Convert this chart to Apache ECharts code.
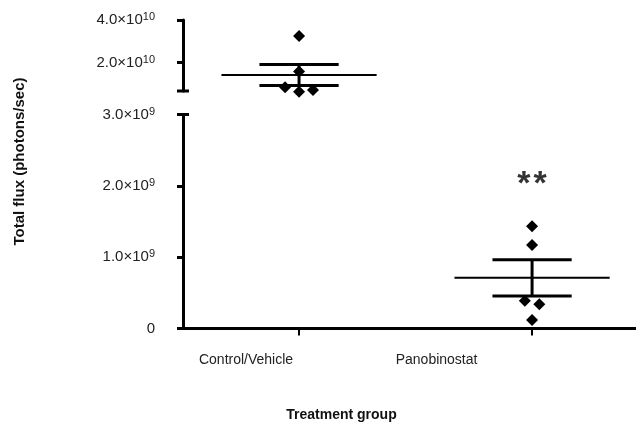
<!DOCTYPE html>
<html>
<head>
<meta charset="utf-8">
<script src="https://cdn.jsdelivr.net/npm/echarts@6/dist/echarts.min.js"></script>
<style>
  html, body { margin: 0; padding: 0; background: #fff; }
  #chart { width: 636px; height: 428px; }
</style>
</head>
<body>
<div id="chart"></div>
<script>
// Treatment groups and individual total-flux readings (photons/sec)
const groups = ['Control/Vehicle', 'Panobinostat'];
const controlFlux = [3.25e10, 1.58e10, 8.5e9, 6.4e9, 7.2e9];
const controlSpread = [0, 0, -0.06, 0, 0.06];
const panoFlux = [1.435e9, 1.17e9, 3.9e8, 3.4e8, 1.2e8];
const panoSpread = [0, 0, -0.031, 0.031, 0];
// Group mean and standard error of the mean
const groupMean = [1.42e10, 7.1e8];
const groupSem = [4.9e9, 2.55e8];
// Tick values for the two segments of the broken y axis
const upperTicks = [2e10, 4e10];
const lowerTicks = [0, 1e9, 2e9, 3e9];
const significance = '**';

const FONT = '"Liberation Sans", Arial, sans-serif';
const INK = '#000';
const UPPER_MIN = 6.7e9, UPPER_MAX = 4e10;
const LOWER_MIN = 0, LOWER_MAX = 3e9;
const xMin = -0.498, xMax = 1.446;

function sciLabel(v) {
  if (v === 0) return '{m|0}';
  const exp = Math.floor(Math.log10(v) + 1e-9);
  const mant = (v / Math.pow(10, exp)).toFixed(1);
  return '{m|' + mant + '×10}{e|' + exp + '}';
}
const sciRich = {
  m: { fontSize: 15, fontFamily: FONT, color: '#222' },
  e: { fontSize: 11, fontFamily: FONT, color: '#222', verticalAlign: 'top', padding: [0, 0, 6, 0] }
};

function meanSem(params, api) {
  const x = api.value(0), m = api.value(1), s = api.value(2);
  const c = api.coord([x, m]);
  const hi = api.coord([x, m + s]);
  const lo = api.coord([x, m - s]);
  const half = api.size([0.333, 0])[0];
  const cap = api.size([0.17, 0])[0];
  return {
    type: 'group',
    children: [
      { type: 'line', shape: { x1: c[0] - half, y1: c[1], x2: c[0] + half, y2: c[1] }, style: { stroke: INK, lineWidth: 2 } },
      { type: 'line', shape: { x1: hi[0], y1: hi[1], x2: lo[0], y2: lo[1] }, style: { stroke: INK, lineWidth: 3 } },
      { type: 'line', shape: { x1: hi[0] - cap, y1: hi[1], x2: hi[0] + cap, y2: hi[1] }, style: { stroke: INK, lineWidth: 3 } },
      { type: 'line', shape: { x1: lo[0] - cap, y1: lo[1], x2: lo[0] + cap, y2: lo[1] }, style: { stroke: INK, lineWidth: 3 } }
    ]
  };
}

// Short cross bar closing each side of the y-axis break
function breakCap(params, api) {
  const p = api.coord([api.value(0), api.value(1)]);
  return {
    type: 'line',
    shape: { x1: p[0] - 6, y1: p[1], x2: p[0] + 6, y2: p[1] },
    style: { stroke: INK, lineWidth: 3 }
  };
}

const chart = echarts.init(document.getElementById('chart'), null, { renderer: 'canvas' });
chart.setOption({
  animation: false,
  backgroundColor: '#fff',
  grid: [
    { left: 183, right: 0, top: 20, height: 71, outerBoundsMode: 'none' },
    { left: 183, right: 0, top: 114.5, height: 214, outerBoundsMode: 'none' }
  ],
  xAxis: [
    { type: 'value', gridIndex: 0, min: xMin, max: xMax, show: false },
    {
      type: 'value', gridIndex: 1, min: xMin, max: xMax,
      splitLine: { show: false },
      axisLine: { show: true, onZero: false, lineStyle: { color: INK, width: 3 } },
      axisTick: { show: true, customValues: [0, 1], length: 7, lineStyle: { color: INK, width: 2 } },
      axisLabel: {
        customValues: [0, 1],
        margin: 25,
        formatter: v => (v === 0 ? '{a|' + groups[0] + '}' : '{b|' + groups[1] + '}'),
        rich: {
          a: { fontSize: 14, fontFamily: FONT, color: '#222', padding: [0, 106, 0, 0] },
          b: { fontSize: 14, fontFamily: FONT, color: '#222', padding: [0, 191, 0, 0] }
        }
      },
      name: 'Treatment group',
      nameLocation: 'middle',
      nameGap: 80,
      nameTextStyle: { fontSize: 14, fontWeight: 'bold', fontFamily: FONT, color: '#111', padding: [0, 136, 0, 0] }
    }
  ],
  yAxis: [
    {
      type: 'value', gridIndex: 0, min: UPPER_MIN, max: UPPER_MAX,
      splitLine: { show: false },
      axisLine: { show: true, onZero: false, lineStyle: { color: INK, width: 3 } },
      axisTick: { show: true, customValues: upperTicks, length: 6, lineStyle: { color: INK, width: 3 } },
      axisLabel: { customValues: upperTicks, margin: 28, formatter: sciLabel, rich: sciRich }
    },
    {
      type: 'value', gridIndex: 1, min: LOWER_MIN, max: LOWER_MAX, interval: 1e9,
      splitLine: { show: false },
      axisLine: { show: true, onZero: false, lineStyle: { color: INK, width: 3 } },
      axisTick: { show: true, customValues: lowerTicks, length: 6, lineStyle: { color: INK, width: 3 } },
      axisLabel: { customValues: lowerTicks, margin: 28, formatter: sciLabel, rich: sciRich }
    }
  ],
  graphic: [
    {
      type: 'text', x: 20, y: 161.5, rotation: Math.PI / 2,
      style: {
        text: 'Total flux (photons/sec)', fontSize: 15, fontWeight: 'bold', fontFamily: FONT,
        fill: '#111', align: 'center', verticalAlign: 'middle'
      }
    }
  ],
  series: [
    {
      type: 'custom', xAxisIndex: 0, yAxisIndex: 0, clip: false, silent: true,
      renderItem: breakCap,
      data: [[xMin, UPPER_MIN]],
      z: 4
    },
    {
      type: 'custom', xAxisIndex: 1, yAxisIndex: 1, clip: false, silent: true,
      renderItem: breakCap,
      data: [[xMin, LOWER_MAX]],
      z: 4
    },
    {
      type: 'custom', xAxisIndex: 0, yAxisIndex: 0, clip: false,
      renderItem: meanSem,
      data: [[0, groupMean[0], groupSem[0]]],
      z: 2
    },
    {
      type: 'custom', xAxisIndex: 1, yAxisIndex: 1, clip: false,
      renderItem: meanSem,
      data: [[1, groupMean[1], groupSem[1]]],
      z: 2
    },
    {
      type: 'scatter', xAxisIndex: 0, yAxisIndex: 0, clip: false,
      symbol: 'diamond', symbolSize: 12,
      itemStyle: { color: INK, opacity: 1 },
      data: controlFlux.map((v, i) => [0 + controlSpread[i], v]),
      z: 3
    },
    {
      type: 'scatter', xAxisIndex: 1, yAxisIndex: 1, clip: false,
      symbol: 'diamond', symbolSize: 12,
      itemStyle: { color: INK, opacity: 1 },
      data: panoFlux.map((v, i) => [1 + panoSpread[i], v]),
      z: 3
    },
    {
      type: 'scatter', xAxisIndex: 1, yAxisIndex: 1, clip: false,
      symbolSize: 0, silent: true,
      data: [[1, 2.02e9]],
      label: {
        show: true, position: 'inside',
        formatter: () => significance.split('').map(s => '{s|' + s + '}').join('{g|}'),
        rich: {
          s: { fontSize: 34, fontWeight: 'bold', fontFamily: FONT, color: INK },
          g: { width: 3 }
        }
      }
    }
  ]
});
</script>
</body>
</html>
